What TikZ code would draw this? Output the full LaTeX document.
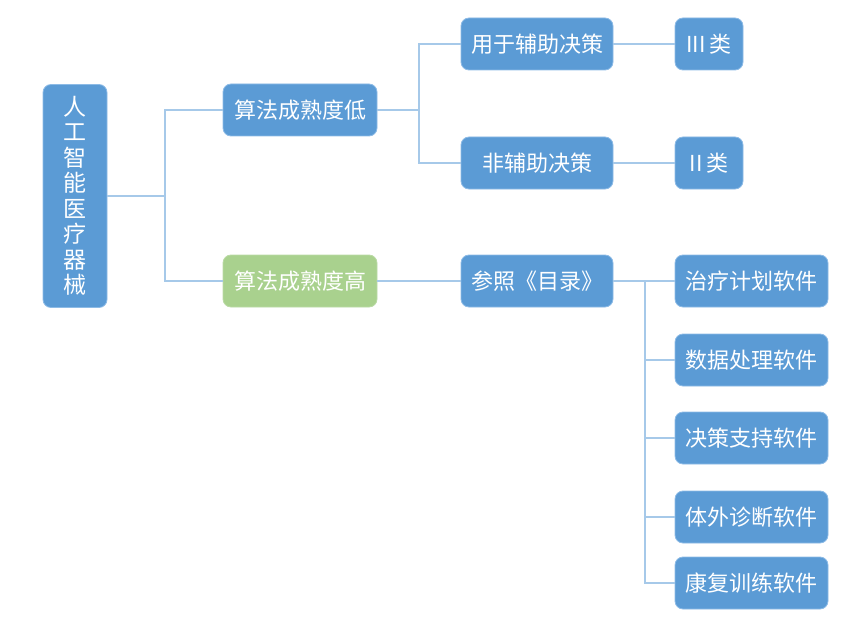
\documentclass[tikz,border=0pt]{standalone}
\usepackage{fontspec}
\newfontfamily\cjk{Noto Sans CJK SC}
\definecolor{boxblue}{HTML}{5B9BD5}
\definecolor{boxgreen}{HTML}{A9D18E}
\definecolor{boxrim}{HTML}{8DBBE6}
\definecolor{linkblue}{HTML}{A6C9E9}
\tikzset{
  box/.style={rectangle,rounded corners=8pt,fill=boxblue,draw=boxrim,line width=0.8pt,
    text=white,inner sep=0pt,minimum height=52pt,font=\cjk\fontsize{22}{25}\selectfont},
  greenbox/.style={box,fill=boxgreen,draw=boxgreen!80!white},
  link/.style={draw=linkblue,line width=1.1pt}
}
\begin{document}
\begin{tikzpicture}[x=1pt,y=-1pt]
                \useasboundingbox (0,0) rectangle (865,623);
                %NODE
                \node[box,minimum width=64pt,minimum height=223pt,align=center,font=\cjk\fontsize{23}{25.5}\selectfont] (R) at (75,196){人\\工\\智\\能\\医\\疗\\器\\械};
                \node[box,minimum width=154pt] (L) at (300,110){算法成熟度低};
                \node[greenbox,minimum width=154pt] (H) at (300,281){算法成熟度高};
                \node[box,minimum width=152pt] (A) at (537,44){用于辅助决策};
                \node[box,minimum width=152pt] (B) at (537,163){非辅助决策};
                \node[box,minimum width=152pt] (C) at (537,281){参照《目录》};
                \node[box,minimum width=68pt] (A3) at (709,44){III\,类};
                \node[box,minimum width=68pt] (B2) at (709,163){II\,类};
                \node[box,minimum width=153pt] (S1) at (751.5,281){治疗计划软件};
                \node[box,minimum width=153pt] (S2) at (751.5,360){数据处理软件};
                \node[box,minimum width=153pt] (S3) at (751.5,438){决策支持软件};
                \node[box,minimum width=153pt] (S4) at (751.5,517){体外诊断软件};
                \node[box,minimum width=153pt] (S5) at (751.5,583){康复训练软件};
                \coordinate (t1) at (165,196);
                \coordinate (t2) at (419,110);
                \coordinate (t3) at (645,281);

                %EDGE
                \draw[link] (R) -- (t1);
                \draw[link] (L.west) -| (t1) |- (H.west);
                \draw[link] (L) -- (t2);
                \draw[link] (A.west) -| (t2) |- (B.west);
                \draw[link] (A) -- (A3);
                \draw[link] (B) -- (B2);
                \draw[link] (H) -- (C);
                \draw[link] (C) -- (S1);
                \draw[link] (t3) |- (S2.west);
                \draw[link] (t3) |- (S3.west);
                \draw[link] (t3) |- (S4.west);
                \draw[link] (t3) |- (S5.west);
            \end{tikzpicture}
\end{document}
